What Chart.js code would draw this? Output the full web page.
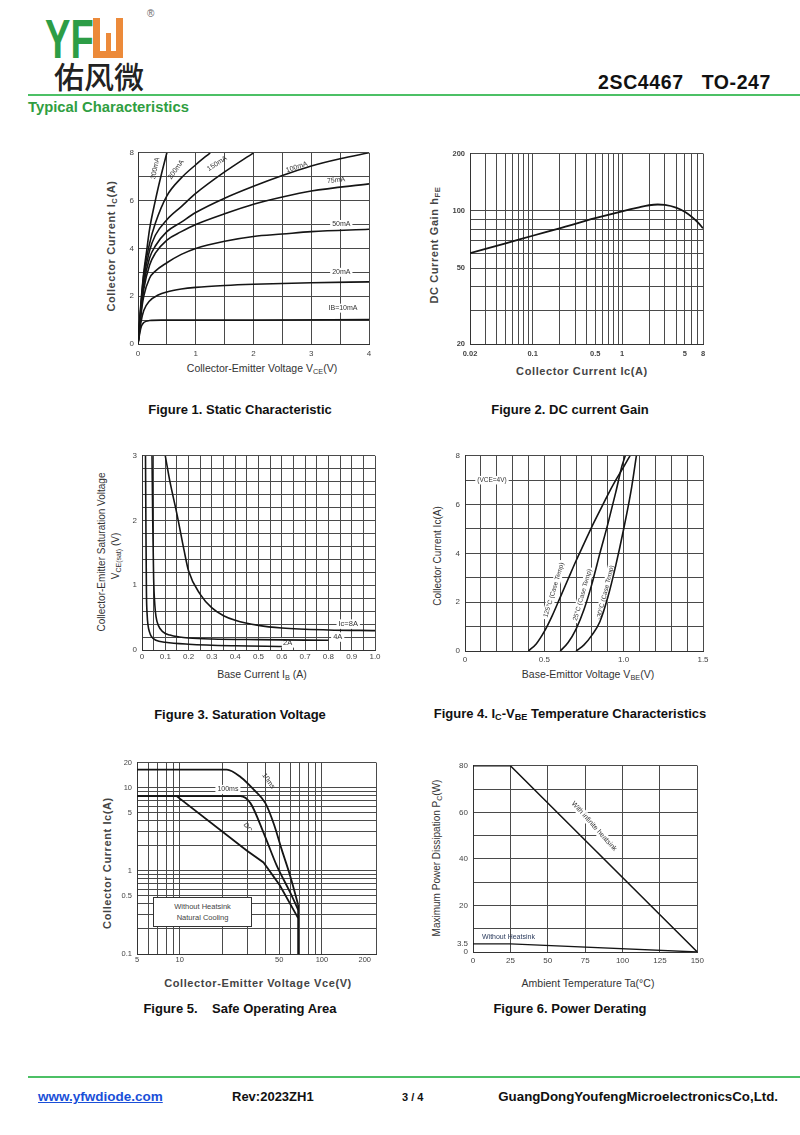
<!DOCTYPE html>
<html>
<head>
<meta charset="utf-8">
<script src="https://cdn.jsdelivr.net/npm/chart.js@4.4.1/dist/chart.umd.min.js"></script>
<style>
  body { margin: 0; width: 800px; height: 1135px; position: relative; background: #fff; overflow: hidden;
         font-family: "Liberation Sans", Arial, sans-serif; color: #111; }
  .abs { position: absolute; white-space: nowrap; }
  canvas { position: absolute; }
  .cap { position: absolute; white-space: nowrap; font-weight: bold; font-size: 13px; transform: translate(-50%, -50%); }
  .ax { position: absolute; white-space: nowrap; font-size: 10px; color: #333; transform: translate(-50%, -50%); }
  .ax.v { transform: translate(-50%, -50%) rotate(-90deg); }
  .ax.b { font-weight: bold; font-size: 11px; color: #444; letter-spacing: 0.6px; }
  sub { font-size: 70%; vertical-align: -2px; }
</style>
</head>
<body>

<!-- header -->
<div class="abs" style="left:45px;top:11px;font-size:56px;line-height:56px;font-weight:bold;color:#2d9d46;transform:scaleX(0.68);transform-origin:0 0;">YF</div>
<div class="abs" style="left:93px;top:18px;width:16px;height:33px;border:7px solid #ec8a3a;border-top:none;"></div>
<div class="abs" style="left:106px;top:33px;width:5px;height:20px;background:#ec8a3a;"></div>
<div class="abs" style="left:147px;top:8px;font-size:10px;color:#666;">®</div>
<div class="abs" style="left:54px;top:57px;font-size:30px;line-height:36px;font-family:'Noto Sans CJK SC';font-weight:500;color:#222;">佑风微</div>
<div class="abs" style="right:29px;top:71px;font-size:19.5px;font-weight:bold;letter-spacing:0.6px;">2SC4467&nbsp;&nbsp;&nbsp;TO-247</div>
<div class="abs" style="left:28px;top:94px;width:772px;height:2px;background:#4cc065;"></div>
<div class="abs" style="left:28px;top:99px;font-size:14.8px;font-weight:bold;color:#2f9e41;">Typical Characteristics</div>

<!-- axis titles and captions -->
<div class="ax v b" style="left:112px;top:246px;">Collector Current I<sub>C</sub>(A)</div>
<div class="ax" style="left:262px;top:369px;font-size:10.5px;">Collector-Emitter Voltage V<sub>CE</sub>(V)</div>
<div class="cap" style="left:240px;top:409px;">Figure 1. Static Characteristic</div>

<div class="ax v b" style="left:435px;top:245px;">DC Current Gain h<sub>FE</sub></div>
<div class="ax b" style="left:582px;top:371px;">Collector Current Ic(A)</div>
<div class="cap" style="left:570px;top:409px;">Figure 2. DC current Gain</div>

<div class="ax v" style="left:101px;top:552px;">Collector-Emitter Saturation Voltage</div>
<div class="ax v" style="left:116px;top:556px;">V<sub>CE(sat)</sub> (V)</div>
<div class="ax" style="left:262px;top:675px;font-size:10.5px;">Base Current I<sub>B</sub> (A)</div>
<div class="cap" style="left:240px;top:714px;">Figure 3. Saturation Voltage</div>

<div class="ax v" style="left:437px;top:556px;">Collector Current Ic(A)</div>
<div class="ax" style="left:588px;top:675px;font-size:10.5px;">Base-Emittor Voltage V<sub>BE</sub>(V)</div>
<div class="cap" style="left:570px;top:714px;">Figure 4. I<sub>C</sub>-V<sub>BE</sub> Temperature Characteristics</div>

<div class="ax v b" style="left:107px;top:863px;">Collector Current Ic(A)</div>
<div class="ax b" style="left:258px;top:983px;">Collector-Emitter Voltage Vce(V)</div>
<div class="cap" style="left:240px;top:1008px;">Figure 5.&nbsp;&nbsp;&nbsp; Safe Operating Area</div>

<div class="ax v" style="left:437px;top:858px;">Maximum Power Dissipation P<sub>C</sub>(W)</div>
<div class="ax" style="left:588px;top:983px;font-size:10.5px;">Ambient Temperature Ta(°C)</div>
<div class="cap" style="left:570px;top:1008px;">Figure 6. Power Derating</div>

<!-- footer -->
<div class="abs" style="left:28px;top:1076px;width:772px;height:2px;background:#4cc065;"></div>
<div class="abs" style="left:38px;top:1089px;font-size:13.5px;font-weight:bold;color:#1a4fd8;text-decoration:underline;">www.yfwdiode.com</div>
<div class="abs" style="left:232px;top:1089px;font-size:13px;font-weight:bold;">Rev:2023ZH1</div>
<div class="abs" style="left:402px;top:1091px;font-size:11px;font-weight:bold;">3 / 4</div>
<div class="abs" style="right:22px;top:1089px;font-size:13.3px;font-weight:bold;">GuangDongYoufengMicroelectronicsCo,Ltd.</div>

<script>
// ---------- Figure 1: static characteristic (Vce, Ic) per base current
const fig1Ib10mA = [[0,0],[0.03,0.45],[0.06,0.75],[0.1,0.9],[0.2,0.98],[0.4,1.0],[1,1.0],[2,1.0],[4,1.02]];
const fig1Ib20mA = [[0,0],[0.05,0.9],[0.1,1.4],[0.2,1.8],[0.35,2.05],[0.5,2.18],[0.75,2.3],[1,2.37],[1.5,2.45],[2,2.5],[3,2.56],[4,2.6]];
const fig1Ib50mA = [[0,0],[0.05,1.2],[0.1,2.0],[0.2,2.75],[0.3,3.05],[0.5,3.4],[0.75,3.75],[1,4.0],[1.5,4.3],[2,4.5],[2.5,4.6],[3,4.7],[4,4.8]];
const fig1Ib75mA = [[0,0],[0.05,1.3],[0.1,2.3],[0.2,3.3],[0.3,3.8],[0.5,4.35],[0.75,4.7],[1,5.0],[1.5,5.45],[2,5.85],[2.5,6.15],[3,6.4],[4,6.7]];
const fig1Ib100mA = [[0,0],[0.05,1.4],[0.1,2.5],[0.2,3.6],[0.3,4.1],[0.5,4.7],[0.75,5.1],[1,5.5],[1.5,6.1],[2,6.6],[2.5,7.05],[3,7.45],[3.5,7.75],[4,8.0]];
const fig1Ib150mA = [[0,0],[0.05,1.5],[0.1,2.7],[0.2,3.9],[0.3,4.55],[0.5,5.2],[0.75,5.75],[1,6.3],[1.5,7.2],[2,8.0]];
const fig1Ib200mA = [[0,0],[0.05,1.6],[0.1,2.9],[0.2,4.2],[0.3,5.05],[0.5,6.2],[0.75,6.95],[1,7.5],[1.25,8.0]];
const fig1Ib300mA = [[0,0],[0.05,1.7],[0.1,3.0],[0.15,3.9],[0.2,4.8],[0.3,6.0],[0.4,7.05],[0.5,8.0]];
const fig1XGrid = [0,0.5,1,1.5,2,2.5,3,3.5,4];
const fig1XLabels = [0,1,2,3,4];
const fig1YGrid = [0,1,2,3,4,5,6,7,8];
const fig1YLabels = [0,2,4,6,8];

// ---------- Figure 2: DC current gain
const fig2Ic = [0.02,0.05,0.1,0.2,0.5,1,1.5,2,2.5,3,4,5,6,7,8];
const fig2Hfe = [60,67.5,74,81,91.5,99.5,104,107,108,107.5,104,99,93,87,81];
const fig2XGrid = [0.02,0.03,0.04,0.05,0.06,0.07,0.08,0.09,0.1,0.2,0.3,0.4,0.5,0.6,0.7,0.8,0.9,1,2,3,4,5,6,7,8];
const fig2XLabels = [0.02,0.1,0.5,1,5,8];
const fig2YGrid = [20,30,40,50,60,70,80,90,100,200];
const fig2YLabels = [20,50,100,200];

// ---------- Figure 3: saturation voltage (Ib, Vce(sat)) per collector current
const fig3Ic8A = [[0.1,3.0],[0.12,2.6],[0.15,2.1],[0.18,1.55],[0.2,1.22],[0.25,0.86],[0.3,0.65],[0.35,0.53],[0.4,0.46],[0.5,0.38],[0.6,0.34],[0.8,0.31],[1.0,0.3]];
const fig3Ic4A = [[0.043,3.0],[0.046,2.0],[0.05,1.1],[0.055,0.7],[0.06,0.52],[0.07,0.38],[0.09,0.28],[0.12,0.23],[0.16,0.2],[0.2,0.185],[0.3,0.17],[0.5,0.16],[0.8,0.15]];
const fig3Ic2A = [[0.015,3.0],[0.017,1.8],[0.019,0.9],[0.022,0.55],[0.026,0.38],[0.032,0.28],[0.04,0.21],[0.06,0.15],[0.1,0.12],[0.2,0.09],[0.4,0.065],[0.6,0.055]];
const fig3XGrid = [0,0.05,0.1,0.15,0.2,0.25,0.3,0.35,0.4,0.45,0.5,0.55,0.6,0.65,0.7,0.75,0.8,0.85,0.9,0.95,1.0];
const fig3XLabels = [0,0.1,0.2,0.3,0.4,0.5,0.6,0.7,0.8,0.9,1.0];
const fig3YGrid = [0,0.2,0.4,0.6,0.8,1,1.2,1.4,1.6,1.8,2,2.2,2.4,2.6,2.8,3];
const fig3YLabels = [0,1,2,3];

// ---------- Figure 4: Ic vs Vbe
const fig4T125 = [[0.4,0],[0.45,0.3],[0.5,0.8],[0.55,1.45],[0.6,2.2],[0.65,2.95],[0.7,3.7],[0.75,4.4],[0.8,5.1],[0.85,5.75],[0.9,6.4],[0.95,7.0],[1.0,7.55],[1.04,8.0]];
const fig4T25 = [[0.6,0],[0.65,0.35],[0.7,0.9],[0.75,1.7],[0.8,2.75],[0.85,4.0],[0.9,5.2],[0.95,6.5],[0.99,7.6],[1.01,8.0]];
const fig4Tm30 = [[0.7,0],[0.75,0.25],[0.8,0.65],[0.85,1.2],[0.9,2.2],[0.95,3.5],[1.0,5.0],[1.05,6.7],[1.08,8.0]];
const fig4XGrid = [0,0.1,0.2,0.3,0.4,0.5,0.6,0.7,0.8,0.9,1.0,1.1,1.2,1.3,1.4,1.5];
const fig4XLabels = [0,0.5,1.0,1.5];
const fig4YGrid = [0,1,2,3,4,5,6,7,8];
const fig4YLabels = [0,2,4,6,8];

// ---------- Figure 5: safe operating area
const fig5Pulse10ms = [[5,16.4],[21.4,16.4],[27,13.2],[33,9.5],[40,6.5],[46,3.6],[52,1.82],[60,0.85],[68,0.39]];
const fig5Pulse100ms = [[5,7.9],[26.7,7.9],[31.4,6.5],[38.8,2.88],[48,1.16],[59.4,0.56],[68,0.34]];
const fig5DC = [[5,7.9],[9.5,7.9],[29.7,1.74],[38.8,1.26],[50.5,0.67],[68,0.27]];
const fig5Limit = [[68,0.1],[68,0.39]];
const fig5XGrid = [5,6,7,8,9,10,20,30,40,50,60,70,80,90,100];
const fig5XLabels = [5,10,50,100,200];
const fig5YGrid = [0.1,0.2,0.3,0.4,0.5,0.6,0.7,0.8,0.9,1,2,3,4,5,6,7,8,9,10,20];
const fig5YLabels = [0.1,0.5,1,5,10,20];

// ---------- Figure 6: power derating
const fig6Temp = [0,25,150];
const fig6InfiniteHeatsink = [80,80,0];
const fig6NoHeatsink = [3.5,3.5,0];
const fig6XGrid = [0,25,50,75,100,125,150];
const fig6XLabels = [0,25,50,75,100,125,150];
const fig6YGrid = [0,10,20,30,40,50,60,70,80];
const fig6YLabels = [0,3.5,20,40,60,80];

Chart.defaults.font.family = '"Liberation Sans", Arial, sans-serif';
Chart.defaults.animation = false;

function has(arr, v) {
  return arr.some(a => Math.abs(a - v) < 1e-9 * Math.max(1, Math.abs(v)));
}

const notesPlugin = {
  id: 'notes',
  beforeDatasetsDraw(chart, args, opts) {
    const ctx = chart.ctx;
    const size = opts.size || 7;
    (opts.items || []).forEach(n => {
      const px = chart.scales.x.getPixelForValue(n.x);
      const py = chart.scales.y.getPixelForValue(n.y);
      ctx.save();
      ctx.translate(px, py);
      ctx.rotate((n.rot || 0) * Math.PI / 180);
      ctx.font = size + 'px "Liberation Sans", Arial, sans-serif';
      ctx.textAlign = n.align || 'center';
      ctx.textBaseline = 'middle';
      const w = ctx.measureText(n.text).width;
      if (n.bg !== false) {
        ctx.fillStyle = '#fff';
        const x0 = n.align === 'left' ? -2 : -w / 2 - 2;
        ctx.fillRect(x0, -size / 2 - 1, w + 4, size + 2);
      }
      ctx.fillStyle = n.color || '#333';
      ctx.fillText(n.text, 0, 0);
      ctx.restore();
    });
  }
};

function axis(type, min, max, grid, labels, fmt, pad, size, bold, fitFn) {
  const all = grid.concat(labels, [min, max]);
  const vals = all.filter((v, i) => all.findIndex(a => Math.abs(a - v) < 1e-9) === i).sort((a, b) => a - b);
  const lines = grid.concat([min, max]);
  return {
    type: type, min: min, max: max,
    afterBuildTicks: s => { s.ticks = vals.map(v => ({ value: v })); },
    afterFit: fitFn,
    ticks: {
      autoSkip: false, maxRotation: 0, minRotation: 0, padding: pad, color: '#444',
      font: { size: size, weight: bold ? 'bold' : 'normal' },
      callback: v => has(labels, v) ? fmt(v) : ''
    },
    grid: {
      drawTicks: false, lineWidth: 1,
      color: c => (c.tick && has(lines, c.tick.value)) ? '#4a4a4a' : 'rgba(0,0,0,0)'
    },
    border: { display: true, color: '#333', width: 1 }
  };
}

function makeChart(plot, o) {
  const padT = 8, padR = 10;
  const cv = document.createElement('canvas');
  const w = o.yW + (plot.r - plot.l) + padR;
  const h = padT + (plot.b - plot.t) + o.xH;
  cv.width = w; cv.height = h;
  cv.style.left = (plot.l - o.yW) + 'px';
  cv.style.top = (plot.t - padT) + 'px';
  cv.style.width = w + 'px'; cv.style.height = h + 'px';
  document.body.appendChild(cv);
  return new Chart(cv, {
    type: 'scatter',
    data: {
      datasets: o.series.map(s => ({
        data: s.pts.map(p => ({ x: p[0], y: p[1] })),
        showLine: true, pointRadius: 0, borderColor: '#151515', backgroundColor: '#151515',
        borderWidth: s.width || 1.6,
        cubicInterpolationMode: s.straight ? 'default' : 'monotone', tension: 0
      }))
    },
    options: {
      responsive: false, maintainAspectRatio: false, devicePixelRatio: 1,
      layout: { padding: { left: 0, top: padT, right: padR, bottom: 0 } },
      scales: {
        x: axis(o.xType, o.xMin, o.xMax, o.xGrid, o.xLabels, o.xFmt, o.xPad, o.tick, o.bold, s => { s.height = o.xH; }),
        y: axis(o.yType, o.yMin, o.yMax, o.yGrid, o.yLabels, o.yFmt, o.yPad, o.tick, o.bold, s => { s.width = o.yW; })
      },
      plugins: {
        legend: { display: false }, tooltip: { enabled: false },
        notes: { size: o.noteSize || 7, items: o.notes || [] }
      }
    },
    plugins: [notesPlugin]
  });
}

const str = v => String(v);
const oneDec = v => v === 0 ? '0' : v.toFixed(1);

// Figure 1
makeChart({ l: 138, r: 369, t: 152, b: 344 }, {
  xType: 'linear', xMin: 0, xMax: 4, xGrid: fig1XGrid, xLabels: fig1XLabels, xFmt: str, xPad: 5, xH: 18,
  yType: 'linear', yMin: 0, yMax: 8, yGrid: fig1YGrid, yLabels: fig1YLabels, yFmt: str, yPad: 4, yW: 20,
  tick: 8,
  series: [{ pts: fig1Ib10mA }, { pts: fig1Ib20mA }, { pts: fig1Ib50mA }, { pts: fig1Ib75mA },
           { pts: fig1Ib100mA }, { pts: fig1Ib150mA }, { pts: fig1Ib200mA }, { pts: fig1Ib300mA }],
  noteSize: 7,
  notes: [
    { x: 0.3, y: 7.35, text: '300mA', rot: -78, bg: false },
    { x: 0.66, y: 7.3, text: '200mA', rot: -55, bg: false },
    { x: 1.37, y: 7.55, text: '150mA', rot: -33, bg: false },
    { x: 2.75, y: 7.4, text: '100mA', rot: -18, bg: false },
    { x: 3.43, y: 6.85, text: '75mA', rot: -6, bg: false },
    { x: 3.52, y: 5.0, text: '50mA' },
    { x: 3.52, y: 3.0, text: '20mA' },
    { x: 3.55, y: 1.5, text: 'IB=10mA' }
  ]
});

// Figure 2
makeChart({ l: 470, r: 703, t: 152, b: 344 }, {
  xType: 'logarithmic', xMin: 0.02, xMax: 8, xGrid: fig2XGrid, xLabels: fig2XLabels, xFmt: str, xPad: 5, xH: 18,
  yType: 'logarithmic', yMin: 20, yMax: 200, yGrid: fig2YGrid, yLabels: fig2YLabels, yFmt: str, yPad: 5, yW: 26,
  tick: 7.5, bold: true,
  series: [{ pts: fig2Ic.map((c, i) => [c, fig2Hfe[i]]), width: 1.8 }]
});

// Figure 3
makeChart({ l: 142, r: 375, t: 454, b: 650 }, {
  xType: 'linear', xMin: 0, xMax: 1, xGrid: fig3XGrid, xLabels: fig3XLabels, xFmt: oneDec, xPad: 2, xH: 16,
  yType: 'linear', yMin: 0, yMax: 3, yGrid: fig3YGrid, yLabels: fig3YLabels, yFmt: str, yPad: 5, yW: 16,
  tick: 8,
  series: [{ pts: fig3Ic8A }, { pts: fig3Ic4A }, { pts: fig3Ic2A }],
  noteSize: 7.5,
  notes: [
    { x: 0.885, y: 0.4, text: 'Ic=8A' },
    { x: 0.84, y: 0.2, text: '4A' },
    { x: 0.625, y: 0.11, text: '2A' }
  ]
});

// Figure 4
makeChart({ l: 465, r: 703, t: 454, b: 651 }, {
  xType: 'linear', xMin: 0, xMax: 1.5, xGrid: fig4XGrid, xLabels: fig4XLabels, xFmt: oneDec, xPad: 4, xH: 16,
  yType: 'linear', yMin: 0, yMax: 8, yGrid: fig4YGrid, yLabels: fig4YLabels, yFmt: str, yPad: 5, yW: 16,
  tick: 8,
  series: [{ pts: fig4T125 }, { pts: fig4T25 }, { pts: fig4Tm30 }],
  noteSize: 6.5,
  notes: [
    { x: 0.17, y: 7, text: '(VCE=4V)' },
    { x: 0.56, y: 2.5, text: '125°C (Case Temp)', rot: -73 },
    { x: 0.74, y: 2.3, text: '25°C (Case Temp)', rot: -74 },
    { x: 0.885, y: 2.4, text: '-30°C (Case Temp)', rot: -76 }
  ]
});

// Figure 5
makeChart({ l: 137, r: 376, t: 761, b: 954 }, {
  xType: 'logarithmic', xMin: 5, xMax: 240, xGrid: fig5XGrid, xLabels: fig5XLabels, xFmt: str, xPad: 1, xH: 14,
  yType: 'logarithmic', yMin: 0.1, yMax: 20, yGrid: fig5YGrid, yLabels: fig5YLabels, yFmt: str, yPad: 5, yW: 20,
  tick: 7.5,
  series: [{ pts: fig5Pulse10ms, width: 1.8 }, { pts: fig5Pulse100ms, width: 1.8 },
           { pts: fig5DC, straight: true, width: 1.8 }, { pts: fig5Limit, straight: true, width: 1.8 }],
  noteSize: 7,
  notes: [
    { x: 42, y: 12, text: '10ms', rot: 55, bg: false },
    { x: 21.8, y: 9.5, text: '100ms' },
    { x: 30, y: 3.3, text: 'DC', rot: 55, bg: false }
  ]
});

// Figure 6
makeChart({ l: 473, r: 698, t: 764, b: 952 }, {
  xType: 'linear', xMin: 0, xMax: 150, xGrid: fig6XGrid, xLabels: fig6XLabels, xFmt: str, xPad: 4, xH: 16,
  yType: 'linear', yMin: 0, yMax: 80, yGrid: fig6YGrid, yLabels: fig6YLabels, yFmt: str, yPad: 5, yW: 22,
  tick: 8,
  series: [{ pts: fig6Temp.map((t, i) => [t, fig6InfiniteHeatsink[i]]), straight: true, width: 1.5 },
           { pts: fig6Temp.map((t, i) => [t, fig6NoHeatsink[i]]), straight: true, width: 1.3 }],
  noteSize: 7,
  notes: [
    { x: 81, y: 54, text: 'With infinite heatsink', rot: 48 },
    { x: 6, y: 6.6, text: 'Without Heatsink', align: 'left', bg: false, color: '#2a3a5c' }
  ]
});
</script>

<!-- SOA note box -->
<div class="abs" style="left:153px;top:897px;width:97px;border:1px solid #333;background:#fff;font-size:7.5px;line-height:11px;color:#444;text-align:center;padding-top:3px;box-sizing:content-box;height:25px;">Without Heatsink<br>Natural Cooling</div>

</body>
</html>
